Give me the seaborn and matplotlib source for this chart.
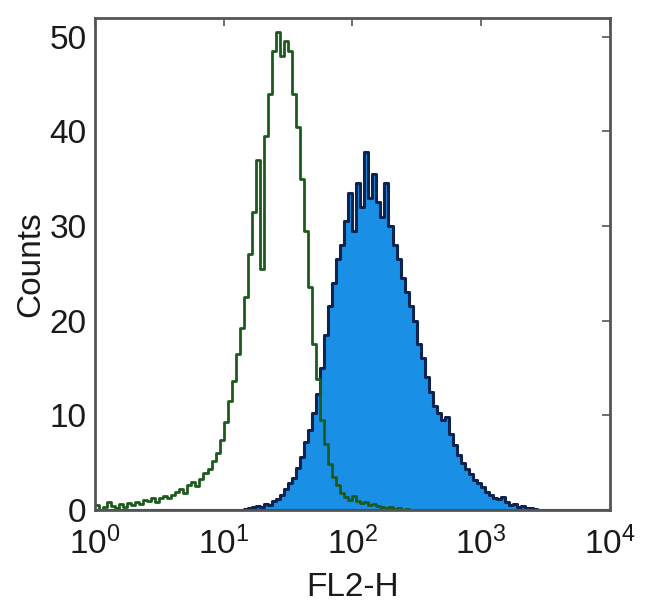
import numpy as np
import matplotlib
matplotlib.use("Agg")
import matplotlib.pyplot as plt
import seaborn as sns

# channels: 128 bins over 4 decades (10^0 .. 10^4), 32 bins per decade
n_bins = 128
log_centers = (np.arange(n_bins) + 0.5) / 32

# isotype control (green outline), counts per channel
control_counts = [
    0.5, 0.0, 0.3, 0.8, 0.4, 0.2, 0.6, 0.3, 0.7, 0.5,
    0.8, 0.6, 1.0, 0.9, 1.2, 0.8, 1.3, 1.5, 1.2, 1.6,
    1.9, 2.2, 1.8, 2.6, 2.9, 2.5, 3.3, 3.9, 4.3, 5.2,
    6.0, 7.4, 9.3, 11.5, 13.6, 16.5, 19.2, 22.5, 27.0, 31.5,
    37.0, 25.5, 39.5, 44.0, 48.5, 50.5, 48.0, 49.5, 48.5, 44.0,
    40.5, 35.0, 29.5, 23.5, 17.5, 13.8, 9.5, 7.0, 4.8, 3.5,
    2.6, 1.8, 1.4, 1.0, 1.5, 0.9, 0.7, 0.8, 0.5, 0.6,
    0.4, 0.3, 0.2, 0.3, 0.1, 0.2, 0.0, 0.1, 0.0, 0.0,
    0.0, 0.0, 0.0, 0.0, 0.0, 0.0, 0.0, 0.0, 0.0, 0.0,
    0.0, 0.0, 0.0, 0.0, 0.0, 0.0, 0.0, 0.0, 0.0, 0.0,
    0.0, 0.0, 0.0, 0.0, 0.0, 0.0, 0.0, 0.0, 0.0, 0.0,
    0.0, 0.0, 0.0, 0.0, 0.0, 0.0, 0.0, 0.0, 0.0, 0.0,
    0.0, 0.0, 0.0, 0.0, 0.0, 0.0, 0.0, 0.0,
]

# stained sample (blue filled), counts per channel
stained_counts = [
    0.0, 0.0, 0.0, 0.0, 0.0, 0.0, 0.0, 0.0, 0.0, 0.0,
    0.0, 0.0, 0.0, 0.0, 0.0, 0.0, 0.0, 0.0, 0.0, 0.0,
    0.0, 0.0, 0.0, 0.0, 0.0, 0.0, 0.0, 0.0, 0.0, 0.0,
    0.0, 0.0, 0.0, 0.0, 0.0, 0.0, 0.0, 0.1, 0.2, 0.3,
    0.4, 0.3, 0.6, 0.5, 0.9, 1.1, 1.6, 2.2, 2.8, 3.4,
    4.4, 5.6, 7.2, 8.4, 10.2, 12.2, 15.0, 18.5, 21.5, 24.0,
    26.5, 28.0, 30.5, 33.5, 29.5, 34.5, 32.0, 37.8, 33.0, 35.5,
    32.5, 31.0, 34.5, 30.0, 28.0, 26.5, 24.5, 23.0, 21.5, 20.0,
    17.5, 16.0, 14.0, 12.5, 11.0, 10.2, 9.5, 9.8, 8.0, 6.8,
    5.8, 5.0, 4.3, 3.8, 3.2, 2.8, 2.4, 1.9, 1.6, 1.3,
    1.1, 1.4, 0.8, 0.5, 0.6, 0.3, 0.4, 0.2, 0.2, 0.1,
    0.0, 0.0, 0.0, 0.0, 0.0, 0.0, 0.0, 0.0, 0.0, 0.0,
    0.0, 0.0, 0.0, 0.0, 0.0, 0.0, 0.0, 0.0,
]

channel = 10 ** log_centers

sns.set_style("white")
plt.rcParams["font.family"] = ["Liberation Sans", "DejaVu Sans"]
plt.rcParams["mathtext.fontset"] = "custom"
plt.rcParams["mathtext.rm"] = "Liberation Sans"
plt.rcParams["mathtext.it"] = "Liberation Sans"
plt.rcParams["text.color"] = "#1a1a1a"
plt.rcParams["xtick.color"] = "#1a1a1a"
plt.rcParams["ytick.color"] = "#1a1a1a"
plt.rcParams["axes.labelcolor"] = "#1a1a1a"

fig = plt.figure(figsize=(6.5, 6.15), dpi=100)
ax = fig.add_axes([0.146, 0.171, 0.792, 0.800])

sns.histplot(x=channel, weights=stained_counts, bins=n_bins, binrange=(0, 4),
             log_scale=True, element="step", fill=True, color="#1a8fe6",
             edgecolor="#0d2350", linewidth=2.2, alpha=1, ax=ax)
sns.histplot(x=channel, weights=control_counts, bins=n_bins, binrange=(0, 4),
             log_scale=True, element="step", fill=False, color="#1d5a1d",
             linewidth=2.0, ax=ax)

ax.set_xlim(1, 1e4)
ax.set_ylim(0, 52)
ax.set_xticks([1, 10, 100, 1000, 10000])
ax.xaxis.set_minor_locator(matplotlib.ticker.NullLocator())
ax.set_yticks([0, 10, 20, 30, 40, 50])

ax.tick_params(axis="both", which="major", direction="in", length=6, width=1.2,
               top=True, right=True, labelsize=24, color="#555555")
ax.tick_params(axis="x", pad=12)
ax.tick_params(axis="y", pad=6)
ax.set_xlabel("FL2-H", fontsize=24, labelpad=8)
ax.set_ylabel("Counts", fontsize=24, labelpad=2)

for s in ax.spines.values():
    s.set_color("#555555")
    s.set_linewidth(2)

fig.savefig("out.png", dpi=100)
